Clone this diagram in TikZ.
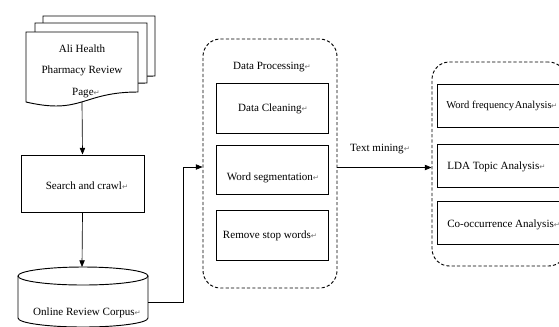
\documentclass[tikz,border=0pt]{standalone}
\usepackage{fontspec}
\setmainfont{Liberation Serif}
\newfontfamily\symf{DejaVu Sans}
\usetikzlibrary{arrows.meta}
\newcommand{\ret}{{\symf\fontsize{5.5pt}{6pt}\selectfont\textcolor{black!55}{↵}}}
\begin{document}
\begin{tikzpicture}[x=0.75pt,y=-0.75pt,
  font=\fontsize{8.3pt}{10pt}\selectfont,
  box/.style={draw, line width=0.75pt, inner sep=0pt, minimum width=84pt, minimum height=37.5pt},
  rbox/.style={draw, line width=0.75pt, inner sep=0pt, minimum width=93.75pt, minimum height=32.25pt},
  cont/.style={draw, dash pattern=on 2.4pt off 1.6pt, rounded corners=13pt, line width=0.7pt, inner sep=0pt},
  arr/.style={-{Triangle[length=5pt,width=4pt]}, line width=0.5pt},
  txt/.style={inner sep=0pt},
  page/.style={draw, fill=white, line width=0.7pt}]
\useasboundingbox (0,0) rectangle (559,326);
\clip (0,0) rectangle (559,326);

% document stack
\foreach \dx/\dy in {17/-16, 9/-9, 0/0}{
  \draw[page, shift={(\dx,\dy)}] (26,32) -- (138,32) -- (138,92)
    .. controls (82,92) and (82,115) .. (26,102) -- cycle;
}
\coordinate (docbot) at (82,102);
\node[txt] (t1) at (82,49) {Ali Health};
\node[txt] (t2) at (82,71) {Pharmacy Review};
\node[txt] (t3) at (86,93) {Page\ret};

% search box
\node[draw, line width=0.75pt, inner sep=0pt, minimum width=92.25pt, minimum height=42.75pt] (search) at (82.5,183.5) {};
\node[txt] (st) at (87,186) {Search and crawl\ret};

% cylinder
\draw[page] (18,276) -- (18,318) arc[start angle=180, end angle=0, x radius=65, y radius=9] -- (148,276);
\draw[line width=0.7pt] (83,276) ellipse [x radius=65, y radius=9];
\coordinate (cyltop) at (82,267);
\coordinate (cylright) at (148,302);
\node[txt] (ct) at (87,313) {Online Review Corpus\ret};

% middle container
\node[cont, minimum width=100.5pt, minimum height=186.75pt] (midc) at (270,163.5) {};
\node[txt] (dp) at (272,67) {Data Processing\ret};
\node[box] (dc) at (272,108) {};
\node[txt] (dct) at (273,109) {Data Cleaning\ret};
\node[box, minimum height=36.75pt] (ws) at (272,169.5) {};
\node[txt] (wst) at (273,178) {Word segmentation\ret};
\node[box] (rs) at (272,235) {};
\node[txt] (rst) at (270,236) {Remove stop words\ret};

% right container
\node[cont, minimum width=100.5pt, minimum height=153pt] (rc) at (499,164) {};
\node[rbox] (wf) at (499.5,105.5) {};
\node[txt, anchor=west, font=\fontsize{7.9pt}{10pt}\selectfont] (wft) at (446,106) {Word frequency\hspace{0.5pt}Analysis\hspace{-0.5pt}\ret};
\node[rbox] (lda) at (499.5,165.5) {};
\node[txt, anchor=west] (ldat) at (447,167) {LDA Topic Analysis\ret};
\node[rbox] (co) at (499.5,223) {};
\node[txt, anchor=west] (cot) at (447,225) {Co-occurrence Analysis\ret};

% connectors
\draw[arr] (docbot) -- (search.north);
\draw[arr] (search.south) -- (cyltop);
\coordinate (elbow) at (183,302);
\draw[arr] (cylright) -- (elbow) |- (midc.west |- 0,167);
\draw[arr] (midc.east |- 0,167.5) -- (rc.west |- 0,167.5);
\node[txt] (tm) at (380,149) {Text mining\ret};
\end{tikzpicture}
\end{document}
